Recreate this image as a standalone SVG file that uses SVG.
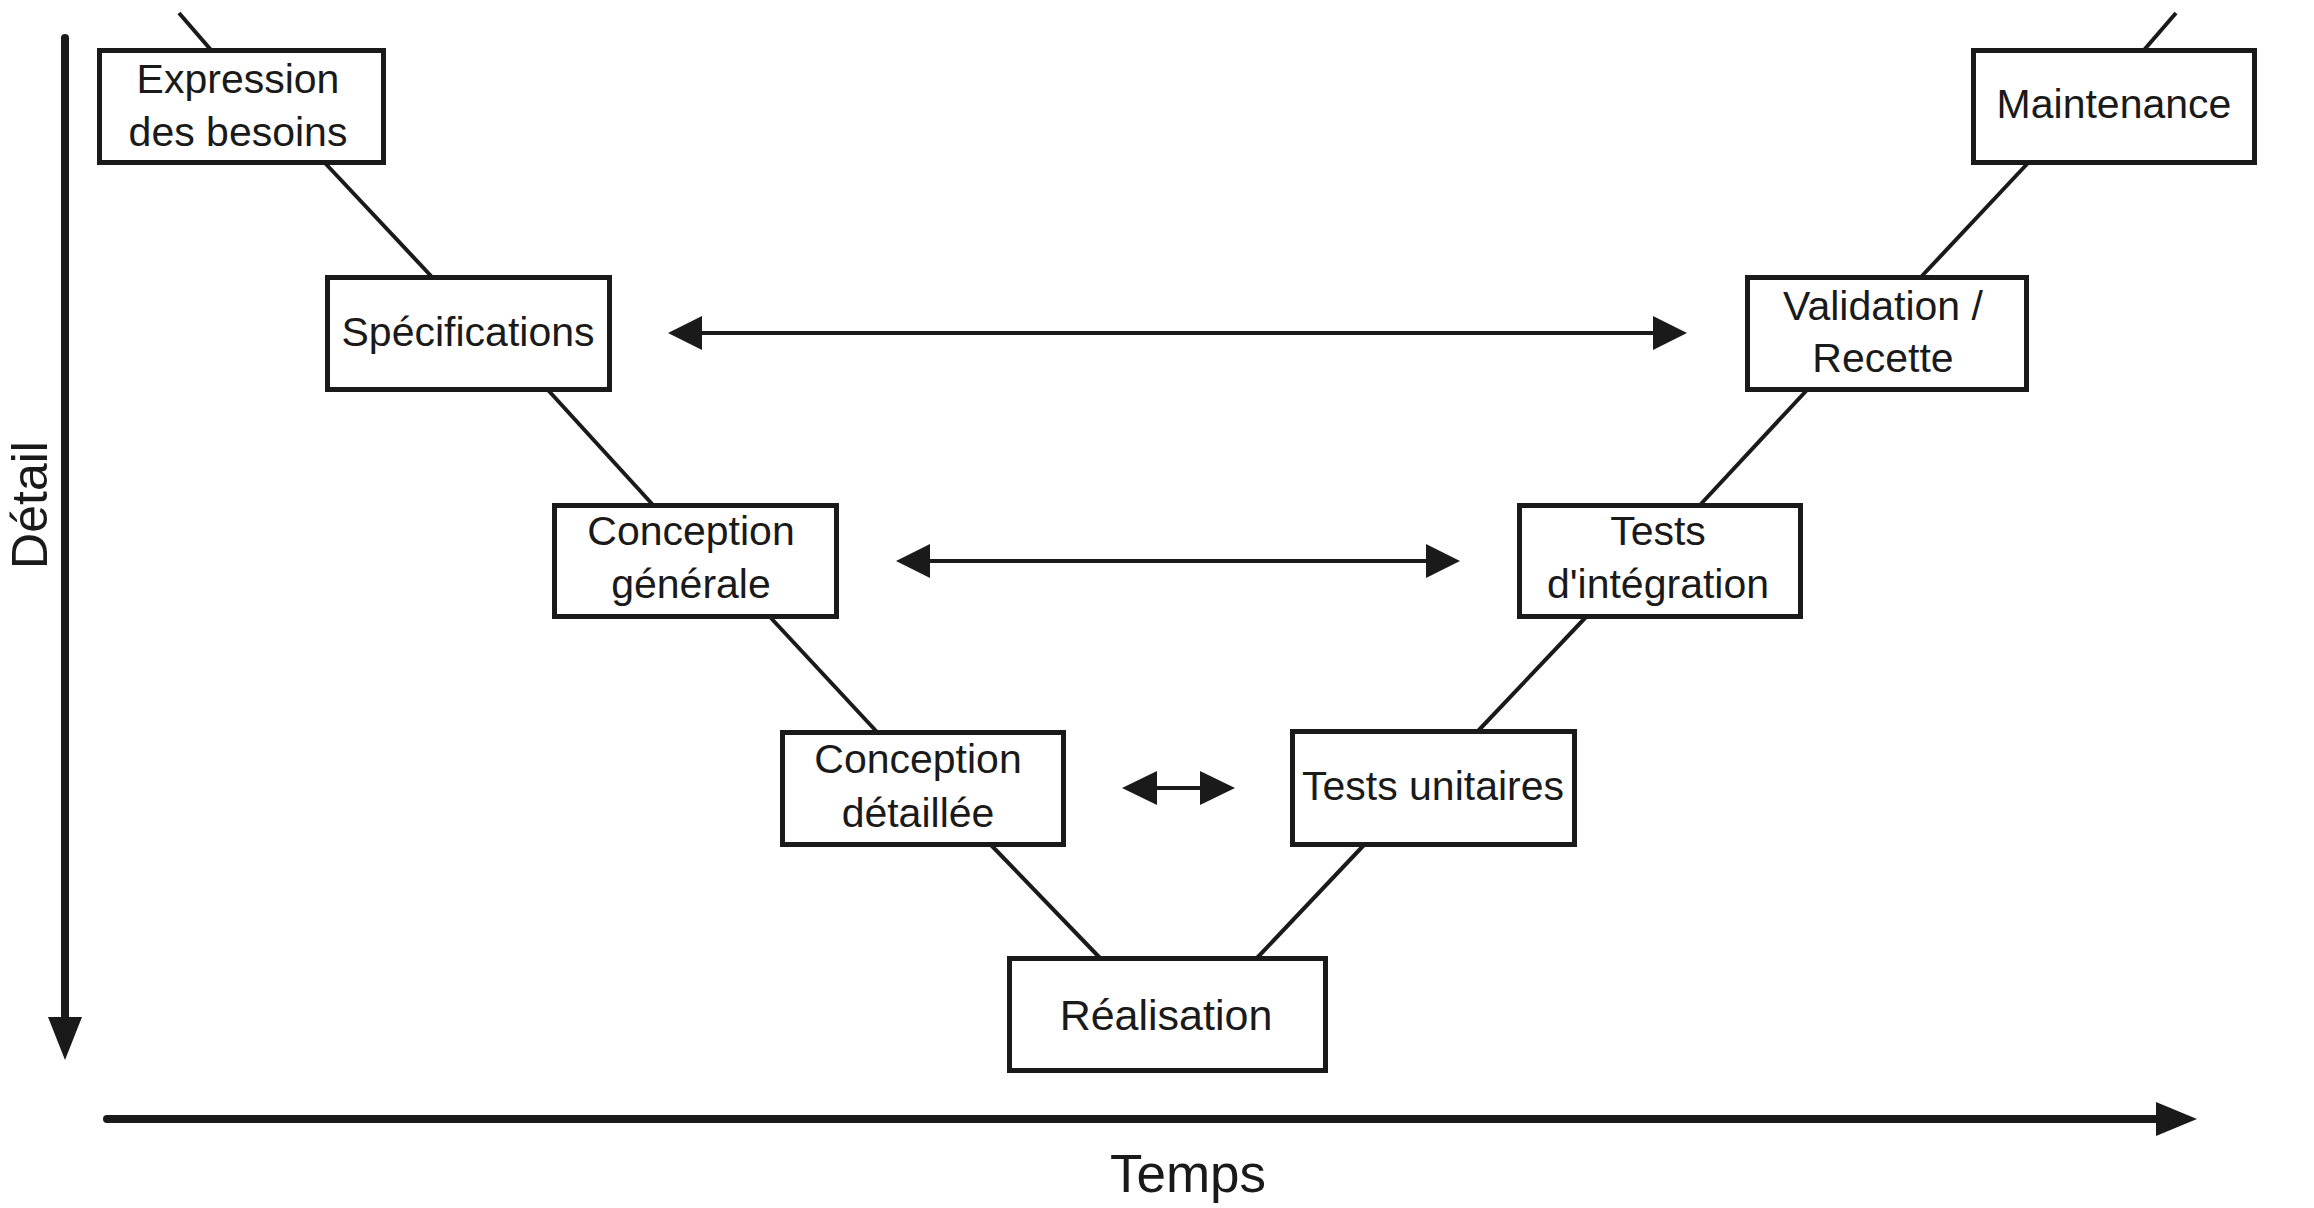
<svg xmlns="http://www.w3.org/2000/svg" width="2314" height="1208" viewBox="0 0 2314 1208">
<style>
.box{fill:#fff;stroke:#1a1a1a;stroke-width:5}
.lbl{font-family:"Liberation Sans",Arial,sans-serif;font-size:41px;fill:#1a1a1a;text-anchor:middle}
.ln{stroke:#1a1a1a;stroke-width:4;fill:none}
.ax{stroke:#1a1a1a;stroke-width:8;stroke-linecap:round;fill:none}
.hd{fill:#1a1a1a}
</style>
<rect width="2314" height="1208" fill="#fff"/>
<g id="connectors">
<line class="ln" x1="179" y1="13" x2="211" y2="50"/>
<line class="ln" x1="325" y1="163" x2="432" y2="277"/>
<line class="ln" x1="548" y1="390" x2="653" y2="505"/>
<line class="ln" x1="770" y1="617" x2="877" y2="732"/>
<line class="ln" x1="991" y1="845" x2="1100" y2="958"/>
<line class="ln" x1="1257" y1="958" x2="1364" y2="845"/>
<line class="ln" x1="1478" y1="731" x2="1586" y2="617"/>
<line class="ln" x1="1700" y1="505" x2="1807" y2="390"/>
<line class="ln" x1="1921" y1="277" x2="2028" y2="163"/>
<line class="ln" x1="2144" y1="50" x2="2176" y2="13"/>
<line class="ln" x1="700" y1="333" x2="1654" y2="333"/>
<polygon class="hd" points="668,333 702,316 702,350"/>
<polygon class="hd" points="1687,333 1653,316 1653,350"/>
<line class="ln" x1="928" y1="561" x2="1428" y2="561"/>
<polygon class="hd" points="896,561 930,544 930,578"/>
<polygon class="hd" points="1460,561 1426,544 1426,578"/>
<line class="ln" x1="1154" y1="788" x2="1203" y2="788"/>
<polygon class="hd" points="1122,788 1157,771 1157,805"/>
<polygon class="hd" points="1235,788 1200,771 1200,805"/>
</g>
<g id="axis-detail">
<line class="ax" x1="65" y1="38" x2="65" y2="1022"/>
<polygon class="hd" points="48,1017 82,1017 65,1060"/>
<text class="lbl" style="font-size:50px" transform="translate(47,505) rotate(-90)">Détail</text>
</g>
<g id="axis-temps">
<line class="ax" x1="107" y1="1119" x2="2160" y2="1119"/>
<polygon class="hd" points="2156,1102 2156,1136 2197,1119"/>
<text class="lbl" style="font-size:53px" x="1188" y="1192">Temps</text>
</g>
<g id="expression">
<rect class="box" x="99.5" y="50.5" width="284" height="112"/>
<text class="lbl" x="238" y="93">Expression</text>
<text class="lbl" x="238" y="146">des besoins</text>
</g>
<g id="specifications">
<rect class="box" x="327.5" y="277.5" width="282" height="112"/>
<text class="lbl" x="468" y="346">Spécifications</text>
</g>
<g id="conception-generale">
<rect class="box" x="554.5" y="505.5" width="282" height="111"/>
<text class="lbl" x="691" y="545">Conception</text>
<text class="lbl" x="691" y="598">générale</text>
</g>
<g id="conception-detaillee">
<rect class="box" x="782.5" y="732.5" width="281" height="112"/>
<text class="lbl" x="918" y="773">Conception</text>
<text class="lbl" x="918" y="827">détaillée</text>
</g>
<g id="realisation">
<rect class="box" x="1009.5" y="958.5" width="316" height="112"/>
<text class="lbl" style="font-size:43px" x="1166" y="1030">Réalisation</text>
</g>
<g id="tests-unitaires">
<rect class="box" x="1292.5" y="731.5" width="282" height="113"/>
<text class="lbl" x="1433" y="800">Tests unitaires</text>
</g>
<g id="tests-integration">
<rect class="box" x="1519.5" y="505.5" width="281" height="111"/>
<text class="lbl" x="1658" y="545">Tests</text>
<text class="lbl" x="1658" y="598">d'intégration</text>
</g>
<g id="validation-recette">
<rect class="box" x="1747.5" y="277.5" width="279" height="112"/>
<text class="lbl" x="1883" y="320">Validation /</text>
<text class="lbl" x="1883" y="372">Recette</text>
</g>
<g id="maintenance">
<rect class="box" x="1973.5" y="50.5" width="281" height="112"/>
<text class="lbl" x="2114" y="118">Maintenance</text>
</g>
</svg>
